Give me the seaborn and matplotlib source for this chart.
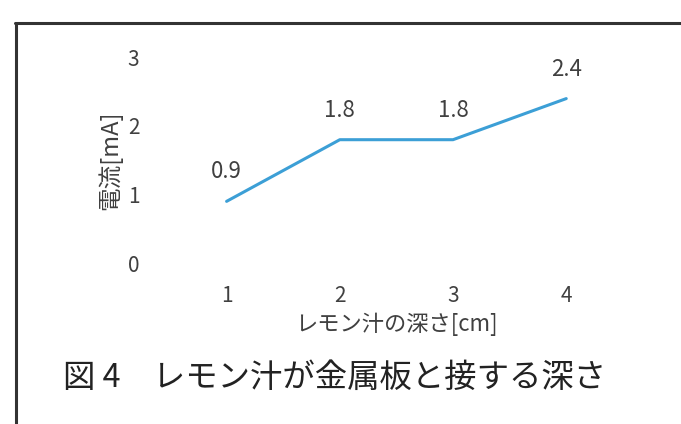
import matplotlib
matplotlib.use("Agg")
import matplotlib.pyplot as plt
import pandas as pd
import seaborn as sns
from matplotlib.lines import Line2D

# ─── DATA ────────────────────────────────────────────────────────────────────
depth_cm = [1, 2, 3, 4]
current_ma = [0.9, 1.8, 1.8, 2.4]
y_ticks = [0, 1, 2, 3]
x_label = "レモン汁の深さ[cm]"
y_label = "電流[mA]"
caption = "図 4\u3000レモン汁が金属板と接する深さ"

df = pd.DataFrame({"depth": depth_cm, "current": current_ma})

sns.set_theme(style="white")
plt.rcParams["font.family"] = ["Noto Sans CJK JP", "DejaVu Sans"]

TXT = "#404040"
LINE = "#3c9fd6"

fig = plt.figure(figsize=(6.81, 4.24), dpi=100)
fig.patch.set_facecolor("white")
ax = fig.add_axes([0.2496, 0.3797, 0.665, 0.4847])

sns.lineplot(data=df, x="depth", y="current", ax=ax, color=LINE, linewidth=2.2)

# data labels above each point
for x, y in zip(df["depth"], df["current"]):
    ax.annotate(f"{y:.1f}", (x, y), xytext=(0, 13), textcoords="offset points",
                ha="center", va="bottom", fontsize=16, color=TXT)

ax.set_xlim(0.5, 4.5)
ax.set_ylim(0, 3)
ax.set_xticks(depth_cm)
ax.set_yticks(y_ticks)
ax.tick_params(axis="both", length=0, labelsize=15, labelcolor=TXT)
ax.tick_params(axis="y", pad=22)
ax.tick_params(axis="x", pad=16)
for s in ax.spines.values():
    s.set_visible(False)
ax.grid(False)
ax.set_facecolor("white")

ax.set_xlabel(x_label, fontsize=16, color=TXT, labelpad=4)
ax.set_ylabel(y_label, fontsize=17, color=TXT, labelpad=4)

# caption below the chart
fig.text(0.092, 0.108, caption, fontsize=23.3, color="#222222", ha="left", va="center")

# scanned frame: top and left border lines
fig.add_artist(Line2D([0.022, 1.0], [0.945, 0.945], transform=fig.transFigure,
                      color="#333333", linewidth=2.2))
fig.add_artist(Line2D([0.024, 0.024], [0.0, 0.945], transform=fig.transFigure,
                      color="#333333", linewidth=2.2))

fig.savefig("out.png", dpi=100)
